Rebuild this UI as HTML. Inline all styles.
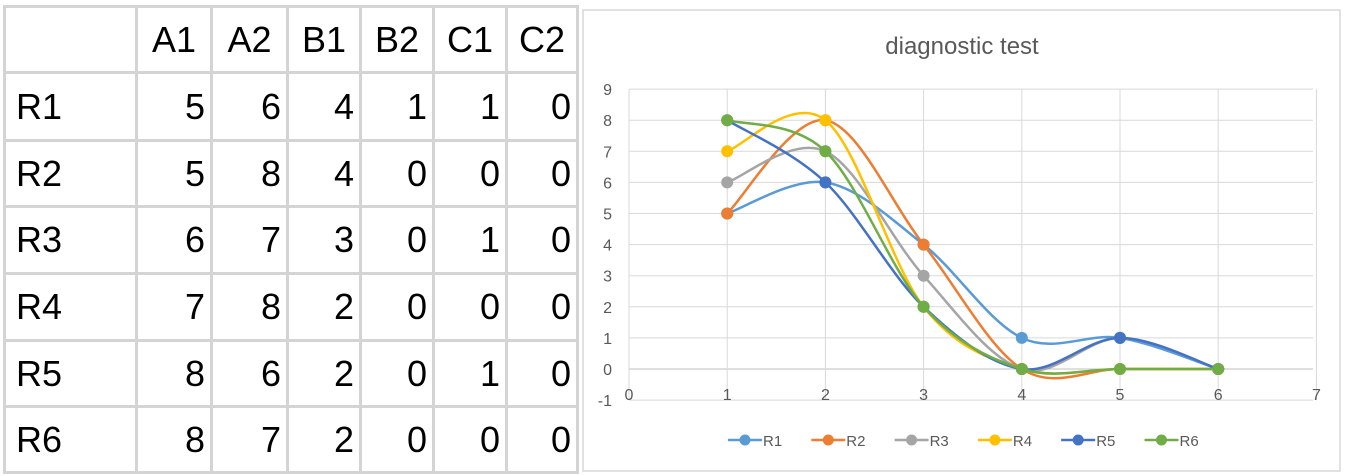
<!DOCTYPE html>
<html><head><meta charset="utf-8"><style>
body{margin:0;width:1347px;height:476px;background:#fff;overflow:hidden;font-family:"Liberation Sans",sans-serif;position:relative}
table{position:absolute;left:3px;top:5px;border-collapse:collapse}
td{border:3px solid #d4d4d4;font-size:36px;padding:0 5px;text-align:right;height:61px;box-sizing:border-box}
td.h{text-align:center;padding:0 2px}
td.r{text-align:left;padding-left:10px}
</style></head><body>
<table>
<colgroup><col style="width:132px"><col style="width:75px"><col style="width:76px"><col style="width:73px"><col style="width:73px"><col style="width:73px"><col style="width:71px"></colgroup>
<tr style="height:66px"><td></td><td class="h">A1</td><td class="h">A2</td><td class="h">B1</td><td class="h">B2</td><td class="h">C1</td><td class="h">C2</td></tr>
<tr style="height:68px"><td class="r">R1</td><td>5</td><td>6</td><td>4</td><td>1</td><td>1</td><td>0</td></tr>
<tr style="height:66px"><td class="r">R2</td><td>5</td><td>8</td><td>4</td><td>0</td><td>0</td><td>0</td></tr>
<tr style="height:67px"><td class="r">R3</td><td>6</td><td>7</td><td>3</td><td>0</td><td>1</td><td>0</td></tr>
<tr style="height:67px"><td class="r">R4</td><td>7</td><td>8</td><td>2</td><td>0</td><td>0</td><td>0</td></tr>
<tr style="height:66px"><td class="r">R5</td><td>8</td><td>6</td><td>2</td><td>0</td><td>1</td><td>0</td></tr>
<tr style="height:66px"><td class="r">R6</td><td>8</td><td>7</td><td>2</td><td>0</td><td>0</td><td>0</td></tr>
</table>
<svg id="c" width="1347" height="476" style="position:absolute;left:0;top:0" font-family="Liberation Sans, sans-serif"></svg>
<script>
var s=document.getElementById('c'),h='';
h+='<rect x="583" y="10" width="757" height="461" fill="none" stroke="#d9d9d9" stroke-width="1.5"/>';
h+='<text x="962" y="54" font-size="24" fill="#595959" text-anchor="middle">diagnostic test</text>';
function X(v){return 629+v*98.2}function Y(v){return 369-v*31.1}
for(var i=-1;i<=9;i++){h+='<line x1="629" x2="1313" y1="'+Y(i)+'" y2="'+Y(i)+'" stroke="'+(i==0?'#bfbfbf':'#d9d9d9')+'" stroke-width="1"/>';
h+='<text x="612" y="'+(Y(i)+6)+'" font-size="16" fill="#595959" text-anchor="end">'+i+'</text>';}
for(var i=0;i<=7;i++){h+='<line y1="'+Y(9)+'" y2="'+Y(-1)+'" x1="'+X(i)+'" x2="'+X(i)+'" stroke="#d9d9d9"/>';
h+='<text x="'+X(i)+'" y="'+(Y(0)+31)+'" font-size="16" fill="#595959" text-anchor="middle">'+i+'</text>';}
var d=[[5,6,4,1,1,0],[5,8,4,0,0,0],[6,7,3,0,1,0],[7,8,2,0,0,0],[8,6,2,0,1,0],[8,7,2,0,0,0]];
var col=['#5b9bd5','#ed7d31','#a5a5a5','#ffc000','#4472c4','#70ad47'];
d.forEach(function(r,k){var p=r.map(function(v,i){return[X(i+1),Y(v)]});var path='M'+p[0];
for(var i=0;i<p.length-1;i++){var p0=p[i-1]||p[i],p1=p[i],p2=p[i+1],p3=p[i+2]||p2;
var c1=[p1[0]+(p2[0]-p0[0])/6,p1[1]+(p2[1]-p0[1])/6],c2=[p2[0]-(p3[0]-p1[0])/6,p2[1]-(p3[1]-p1[1])/6];
path+=' C'+c1+' '+c2+' '+p2;}
h+='<path d="'+path+'" fill="none" stroke="'+col[k]+'" stroke-width="2.5"/>';
p.forEach(function(q){h+='<circle cx="'+q[0]+'" cy="'+q[1]+'" r="6" fill="'+col[k]+'"/>'});
var lx=728+k*83.3;h+='<line x1="'+lx+'" x2="'+(lx+34)+'" y1="440" y2="440" stroke="'+col[k]+'" stroke-width="2.5"/><circle cx="'+(lx+17)+'" cy="440" r="5.5" fill="'+col[k]+'"/>';
h+='<text x="'+(lx+35)+'" y="446" font-size="15" fill="#595959">R'+(k+1)+'</text>';});
s.innerHTML=h;
</script>
</body></html>
